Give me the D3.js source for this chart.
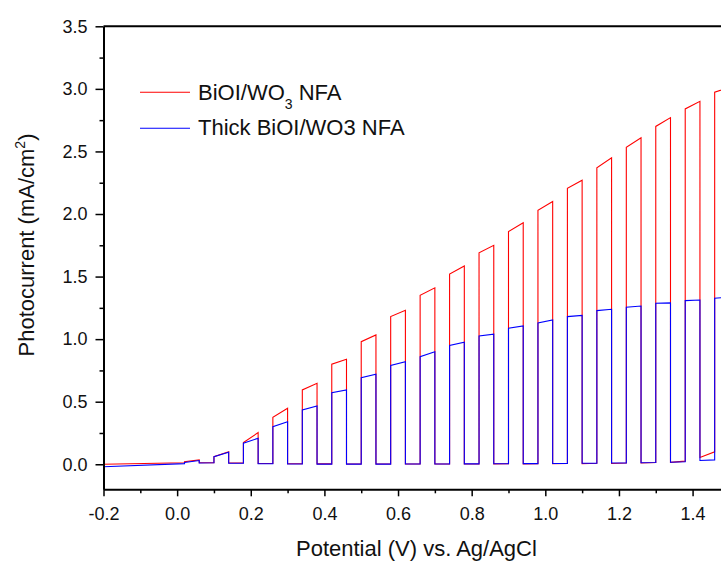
<!DOCTYPE html>
<html>
<head>
<meta charset="utf-8">
<script src="https://cdn.jsdelivr.net/npm/d3@7"></script>
<style>
  body { margin: 0; background: #fff; }
  text { font-family: "Liberation Sans", Arial, sans-serif; fill: #111; }
</style>
</head>
<body>
<div id="chart"></div>
<script>

var w = 721, h = 563;

// chopped light: when the lamp goes on / off (V)
var lightOn  = [0.02, 0.10, 0.18, 0.26, 0.34, 0.42, 0.50, 0.58, 0.66, 0.74, 0.82, 0.90, 0.98, 1.06, 1.14, 1.22, 1.30, 1.38, 1.46];
var lightOff = [0.06, 0.14, 0.22, 0.30, 0.38, 0.46, 0.54, 0.62, 0.70, 0.78, 0.86, 0.94, 1.02, 1.10, 1.18, 1.26, 1.34, 1.42, 1.50];

// BiOI/WO3 NFA : current at start and end of each light period, and dark level before it
var redOnStart = [0.020, 0.060, 0.173, 0.376, 0.594, 0.800, 0.980, 1.180, 1.350, 1.520, 1.690, 1.860, 2.030, 2.206, 2.370, 2.534, 2.700, 2.840, 2.974];
var redOnEnd   = [0.035, 0.100, 0.253, 0.448, 0.647, 0.840, 1.034, 1.230, 1.410, 1.585, 1.750, 1.930, 2.100, 2.270, 2.450, 2.610, 2.770, 2.900, 3.010];
var redDarkStart = [0.000, 0.012, 0.010, 0.006, 0.004, 0.003, 0.002, 0.002, 0.002, 0.002, 0.002, 0.003, 0.003, 0.004, 0.005, 0.006, 0.010, 0.015, 0.055];
var redDarkEnd   = [0.012, 0.012, 0.010, 0.006, 0.004, 0.003, 0.002, 0.002, 0.002, 0.002, 0.003, 0.004, 0.005, 0.006, 0.008, 0.010, 0.014, 0.025, 0.100];

// Thick BiOI/WO3 NFA
var blueOnStart = [0.015, 0.060, 0.168, 0.300, 0.434, 0.572, 0.692, 0.790, 0.860, 0.950, 1.025, 1.087, 1.130, 1.180, 1.228, 1.255, 1.287, 1.308, 1.327];
var blueOnEnd   = [0.030, 0.096, 0.208, 0.340, 0.466, 0.594, 0.720, 0.820, 0.900, 0.975, 1.040, 1.105, 1.153, 1.190, 1.239, 1.265, 1.290, 1.313, 1.337];
var blueDarkStart = [-0.020, 0.010, 0.008, 0.004, 0.002, 0.001, 0.001, 0.001, 0.002, 0.002, 0.003, 0.004, 0.005, 0.006, 0.008, 0.010, 0.012, 0.016, 0.030];
var blueDarkEnd   = [0.005, 0.012, 0.008, 0.004, 0.002, 0.001, 0.001, 0.001, 0.002, 0.002, 0.003, 0.004, 0.005, 0.006, 0.008, 0.010, 0.014, 0.020, 0.035];

var xStart = -0.2;
var xTicks = [-0.2, 0.0, 0.2, 0.4, 0.6, 0.8, 1.0, 1.2, 1.4];
var xMinor = [-0.1, 0.1, 0.3, 0.5, 0.7, 0.9, 1.1, 1.3, 1.5];
var yTicks = [0.0, 0.5, 1.0, 1.5, 2.0, 2.5, 3.0, 3.5];
var yMinor = [0.25, 0.75, 1.25, 1.75, 2.25, 2.75, 3.25];

var redC = "#ff0000";
var blueC = "#0000ff";

var x = d3.scaleLinear().domain([-0.2, 1.5]).range([103.5, 729.4]);
var y = d3.scaleLinear().domain([-0.2, 3.5]).range([489.3, 26.3]);

// plain hyphen for negatives, like the original
function fmt(d) { return d.toFixed(1); }

// build the chopped trace: dark segment, jump up, lit segment, drop down
function trace(onStart, onEnd, darkStart, darkEnd) {
  var pts = [];
  lightOn.forEach(function(t, i) {
    var from = i ? lightOff[i-1] : xStart;
    pts.push([from, darkStart[i]]);
    pts.push([t, darkEnd[i]]);
    pts.push([t, onStart[i]]);
    pts.push([lightOff[i], onEnd[i]]);
    if (i < lightOn.length - 1)
      pts.push([lightOff[i], darkStart[i+1]]);
  });
  return pts;
}

var svg = d3.select("#chart")
  .append("svg")
  .attr("width", w)
  .attr("height", h);

var line = d3.line()
  .x(function(d) { return x(d[0]); })
  .y(function(d) { return y(d[1]); });

svg.append("path")
  .attr("d", line(trace(redOnStart, redOnEnd, redDarkStart, redDarkEnd)))
  .style("fill", "none")
  .style("stroke", redC)
  .style("stroke-width", 1.1);

svg.append("path")
  .attr("d", line(trace(blueOnStart, blueOnEnd, blueDarkStart, blueDarkEnd)))
  .style("fill", "none")
  .style("stroke", blueC)
  .style("stroke-width", 1.1);

// axes
svg.append("g")
  .attr("transform", "translate(" + x.range()[0] + ",0)")
  .call(d3.axisLeft(y).tickValues(yTicks).tickFormat(fmt)
    .tickSize(8).tickSizeOuter(0).tickPadding(8));

svg.append("g")
  .attr("transform", "translate(" + x.range()[0] + ",0)")
  .call(d3.axisLeft(y).tickValues(yMinor).tickFormat("").tickSize(4).tickSizeOuter(0))
  .select(".domain").remove();

svg.append("g")
  .attr("transform", "translate(0," + y.range()[0] + ")")
  .call(d3.axisBottom(x).tickValues(xTicks).tickFormat(fmt)
    .tickSize(7).tickSizeOuter(0).tickPadding(11));

svg.append("g")
  .attr("transform", "translate(0," + y.range()[0] + ")")
  .call(d3.axisBottom(x).tickValues(xMinor).tickFormat("").tickSize(4).tickSizeOuter(0))
  .select(".domain").remove();

svg.selectAll(".domain").style("stroke", "#000").style("stroke-width", 2);
svg.selectAll(".tick line").style("stroke", "#000").style("stroke-width", 1.5);
svg.selectAll(".tick text")
  .style("font-size", "18px")
  .style("font-family", "'Liberation Sans', Arial, sans-serif")
  .style("fill", "#111");

// top frame
svg.append("path")
  .attr("d", "M" + x.range()[0] + "," + y.range()[1] + "H" + w)
  .style("stroke", "#000")
  .style("stroke-width", 2);

// axis titles
svg.append("text")
  .attr("x", (x.range()[0] + x.range()[1]) / 2)
  .attr("y", 556)
  .attr("text-anchor", "middle")
  .style("font-size", "22px")
  .text("Potential (V) vs. Ag/AgCl");

var yt = svg.append("text")
  .attr("transform", "translate(33.5,245) rotate(-90)")
  .attr("text-anchor", "middle")
  .style("font-size", "22px");
yt.append("tspan").text("Photocurrent (mA/cm");
yt.append("tspan").attr("dy", -9).style("font-size", "14px").text("2");
yt.append("tspan").attr("dy", 9).text(")");

// legend
var legend = svg.append("g");
legend.append("line")
  .attr("x1", 140).attr("x2", 190).attr("y1", 92.3).attr("y2", 92.3)
  .style("stroke", redC).style("stroke-width", 1.1);
var l1 = legend.append("text").attr("x", 198).attr("y", 100).style("font-size", "22px");
l1.append("tspan").text("BiOI/WO");
l1.append("tspan").attr("dy", 9).style("font-size", "14px").text("3");
l1.append("tspan").attr("dy", -9).text(" NFA");

legend.append("line")
  .attr("x1", 140).attr("x2", 190).attr("y1", 128.3).attr("y2", 128.3)
  .style("stroke", blueC).style("stroke-width", 1.1);
legend.append("text").attr("x", 198).attr("y", 135).style("font-size", "22px")
  .text("Thick BiOI/WO3 NFA");

</script>
</body>
</html>
